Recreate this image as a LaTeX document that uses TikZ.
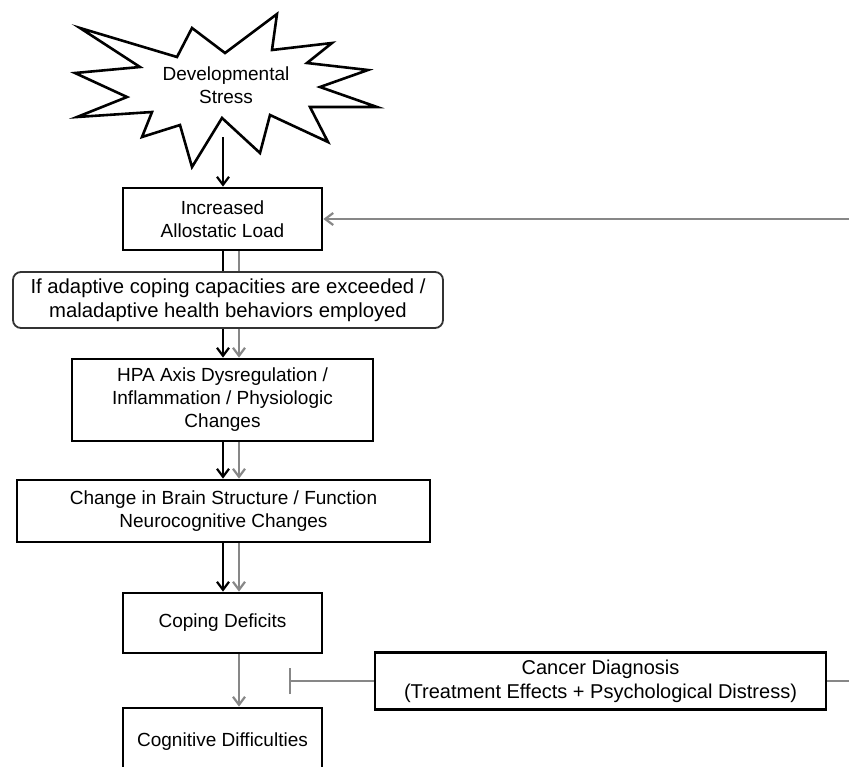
\documentclass[tikz,border=0pt]{standalone}
\usepackage{fontspec}
\setmainfont{Liberation Sans}
\usetikzlibrary{arrows.meta,calc}
\begin{document}
\begin{tikzpicture}[x=1pt,y=-1pt,
  box/.style={draw=black,line width=2.8pt,fill=white,inner sep=0pt,align=center,
    font=\fontsize{19}{23}\selectfont},
  rbox/.style={draw=black!80,line width=1.8pt,rounded corners=8pt,fill=white,inner sep=0pt,align=center,
    font=\fontsize{20.3}{24}\selectfont},
  blk/.style={draw=black,line width=2.2pt},
  gry/.style={draw=black!47,line width=2.2pt},
  tip/.style={-{Straight Barb[length=8pt,width=12pt,line width=2.2pt]}},
  star/.style={draw=black,line width=2.6pt,line join=miter,fill=white}
]
\clip (0,0) rectangle (849,766);
\fill[white] (0,0) rectangle (849,766);

% starburst
\draw[star] (80,28) -- (177,57) -- (192,28) -- (225,53) -- (277,14) -- (272,50) -- (332,43)
  -- (307,63) -- (368,70) -- (320,87) -- (377,107) -- (310,107) -- (328,142) -- (270,115)
  -- (260,153) -- (222,118) -- (192,167) -- (180,125) -- (142,137) -- (152,112) -- (77,117)
  -- (127,97) -- (75,73) -- (140,67) -- cycle;
\node[align=center,font=\fontsize{19}{23}\selectfont] (dev) at (226,85) {Developmental\\Stress};
\coordinate (devout) at (223,137);

\coordinate (bx) at (223,0);
\coordinate (gx) at (239,0);

\node[box,minimum width=199pt,minimum height=62pt] (allo) at (222.5,219) {Increased\\Allostatic Load};
\node[rbox,minimum width=430pt,minimum height=56pt] (cope) at (228,300) {If adaptive coping capacities are exceeded /\\maladaptive health behaviors employed};
\node[box,minimum width=301pt,minimum height=82pt] (hpa) at (222.5,400) {HPA Axis Dysregulation /\\Inflammation / Physiologic\\Changes};
\node[box,minimum width=413pt,minimum height=62pt] (brain) at (223.5,511) {Change in Brain Structure / Function\\Neurocognitive Changes};
\node[box,minimum width=199pt,minimum height=60pt] (def) at (222.5,623) {Coping Deficits};
\node[box,minimum width=199pt,minimum height=68pt] (cog) at (222.5,742) {Cognitive Difficulties};
\node[box,minimum width=451pt,minimum height=57pt,font=\fontsize{20}{24}\selectfont] (can) at (600.5,681) {Cancer Diagnosis\\(Treatment Effects + Psychological Distress)};
\coordinate (tbar) at (289,681);
\coordinate (rt) at (875,0);

% black pathway
\draw[blk,tip] (devout) -- (allo.north -| devout);
\draw[blk] (allo.south -| bx) -- (cope.north -| bx);
\draw[blk,tip] (cope.south -| bx) -- (hpa.north -| bx);
\draw[blk,tip] (hpa.south -| bx) -- (brain.north -| bx);
\draw[blk,tip] (brain.south -| bx) -- (def.north -| bx);

% gray pathway
\draw[gry] (allo.south -| gx) -- (cope.north -| gx);
\draw[gry,tip] (cope.south -| gx) -- (hpa.north -| gx);
\draw[gry,tip] (hpa.south -| gx) -- (brain.north -| gx);
\draw[gry,tip] (brain.south -| gx) -- (def.north -| gx);
\draw[gry,tip] (def.south -| gx) -- (cog.north -| gx);
\draw[gry,-{Bar[width=26pt,line width=2.2pt]}] (can.west) -- (tbar);
\draw[gry,tip] (can.east) -- (can.east -| rt) -- (allo.east -| rt) -- (allo.east);
\end{tikzpicture}
\end{document}
